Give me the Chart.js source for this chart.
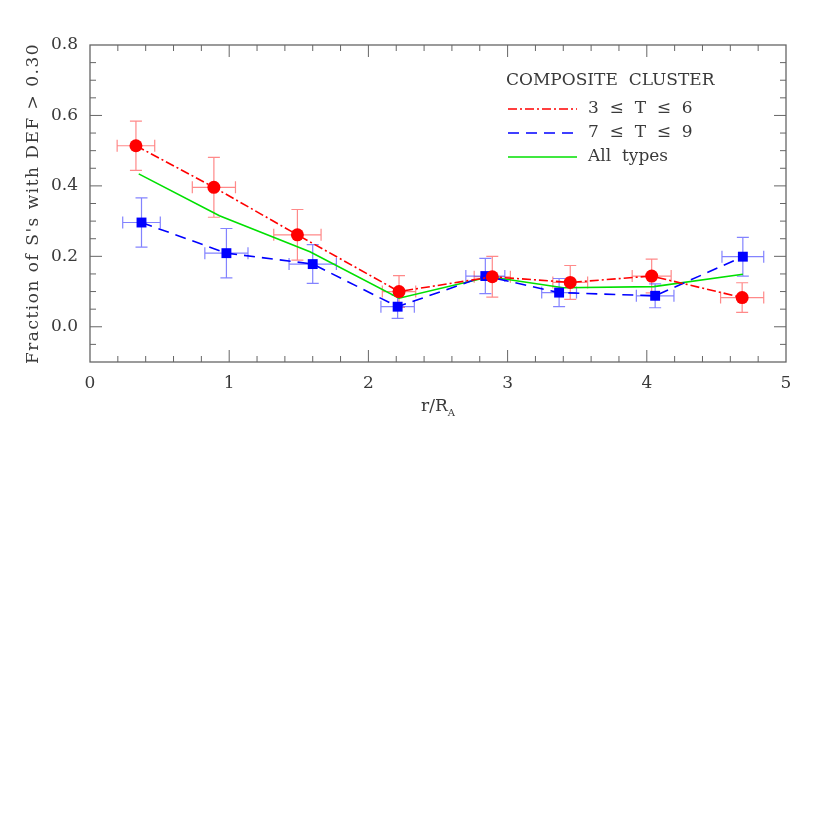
<!DOCTYPE html>
<html>
<head>
<meta charset="utf-8">
<script src="https://cdn.jsdelivr.net/npm/chart.js@4.4.1/dist/chart.umd.min.js"></script>
<style>
html, body { margin: 0; padding: 0; background: #fff; }
#wrap { width: 830px; height: 830px; }
</style>
</head>
<body>
<div id="wrap"><canvas id="chart" width="830" height="830"></canvas></div>
<script>
// 3 <= T <= 6
const lateX = [0.33, 0.89, 1.49, 2.22, 2.89, 3.45, 4.035, 4.685];
const lateY = [0.514, 0.396, 0.261, 0.100, 0.142, 0.126, 0.144, 0.083];
const lateXErr = [0.135, 0.155, 0.17, 0.12, 0.13, 0.125, 0.14, 0.155];
const lateYErr = [0.07, 0.085, 0.072, 0.045, 0.058, 0.048, 0.048, 0.042];

// 7 <= T <= 9
const irrX = [0.37, 0.98, 1.60, 2.21, 2.84, 3.37, 4.06, 4.69];
const irrY = [0.296, 0.209, 0.178, 0.057, 0.144, 0.097, 0.088, 0.199];
const irrXErr = [0.135, 0.155, 0.17, 0.12, 0.14, 0.125, 0.135, 0.15];
const irrYErr = [0.07, 0.07, 0.055, 0.033, 0.05, 0.04, 0.034, 0.055];

// all types
const allX = [0.35, 0.93, 1.58, 2.22, 2.87, 3.40, 4.05, 4.69];
const allY = [0.434, 0.315, 0.213, 0.081, 0.142, 0.111, 0.114, 0.149];

const xTicks = [0, 1, 2, 3, 4, 5];
const yTicks = [0.0, 0.2, 0.4, 0.6, 0.8];

const FONT = '"DejaVu Serif", "Liberation Serif", serif';
const TEXT = '#3a3a3a';
const AXIS = '#666';

function toPoints(xs, ys) {
    return xs.map((x, i) => ({ x: x, y: ys[i] }));
}

function drawErrorBars(ctx, xs, ys, xe, ye, color, xScale, yScale) {
    const cap = 6;
    ctx.save();
    ctx.strokeStyle = color;
    ctx.lineWidth = 1.2;
    for (let i = 0; i < xs.length; i++) {
        const px = xScale.getPixelForValue(xs[i]);
        const py = yScale.getPixelForValue(ys[i]);
        const x0 = xScale.getPixelForValue(xs[i] - xe[i]);
        const x1 = xScale.getPixelForValue(xs[i] + xe[i]);
        const y0 = yScale.getPixelForValue(ys[i] - ye[i]);
        const y1 = yScale.getPixelForValue(ys[i] + ye[i]);
        ctx.beginPath();
        ctx.moveTo(x0, py); ctx.lineTo(x1, py);
        ctx.moveTo(x0, py - cap); ctx.lineTo(x0, py + cap);
        ctx.moveTo(x1, py - cap); ctx.lineTo(x1, py + cap);
        ctx.moveTo(px, y0); ctx.lineTo(px, y1);
        ctx.moveTo(px - cap, y0); ctx.lineTo(px + cap, y0);
        ctx.moveTo(px - cap, y1); ctx.lineTo(px + cap, y1);
        ctx.stroke();
    }
    ctx.restore();
}

// error bars go under the lines and markers
const errorBarsPlugin = {
    id: 'errorBars',
    beforeDatasetsDraw(chart) {
        const { ctx, scales } = chart;
        drawErrorBars(ctx, lateX, lateY, lateXErr, lateYErr, 'rgba(255,40,40,0.55)', scales.x, scales.y);
        drawErrorBars(ctx, irrX, irrY, irrXErr, irrYErr, 'rgba(30,30,255,0.55)', scales.x, scales.y);
    }
};

// frame, inward ticks on all four sides, axis titles and the legend block
const framePlugin = {
    id: 'frame',
    afterDraw(chart) {
        const { ctx, chartArea: a, scales } = chart;
        const xs = scales.x, ys = scales.y;
        ctx.save();
        ctx.strokeStyle = AXIS;
        ctx.lineWidth = 1.3;
        ctx.strokeRect(a.left, a.top, a.right - a.left, a.bottom - a.top);

        ctx.lineWidth = 1;
        ctx.beginPath();
        for (let i = 1; i < 25; i++) {
            const v = i * 0.2;
            const len = (i % 5 === 0) ? 12 : 6;
            const p = xs.getPixelForValue(v);
            ctx.moveTo(p, a.bottom); ctx.lineTo(p, a.bottom - len);
            ctx.moveTo(p, a.top); ctx.lineTo(p, a.top + len);
        }
        for (let i = -1; i < 16; i++) {
            const v = i * 0.05;
            const len = (i % 4 === 0) ? 12 : 6;
            const p = ys.getPixelForValue(v);
            ctx.moveTo(a.left, p); ctx.lineTo(a.left + len, p);
            ctx.moveTo(a.right, p); ctx.lineTo(a.right - len, p);
        }
        ctx.stroke();

        ctx.fillStyle = TEXT;
        ctx.font = '17px ' + FONT;
        ctx.textBaseline = 'middle';

        // x title r/R_A
        const cx = (a.left + a.right) / 2;
        const main = 'r/R';
        const w = ctx.measureText(main).width;
        ctx.font = '10px ' + FONT;
        const ws = ctx.measureText('A').width;
        ctx.font = '17px ' + FONT;
        ctx.textAlign = 'left';
        ctx.fillText(main, cx - (w + ws) / 2, a.bottom + 45);
        ctx.font = '10px ' + FONT;
        ctx.fillText('A', cx - (w + ws) / 2 + w, a.bottom + 51);

        // y title
        ctx.font = '17px ' + FONT;
        ctx.save();
        ctx.translate(34, (a.top + a.bottom) / 2);
        ctx.rotate(-Math.PI / 2);
        ctx.textAlign = 'center';
        ctx.letterSpacing = '1.5px';
        ctx.fillText("Fraction of S's with DEF > 0.30", 0, 0);
        ctx.restore();

        // legend
        ctx.textAlign = 'left';
        ctx.fillText('COMPOSITE  CLUSTER', 506, 81);
        const rows = [
            { label: '3  \u2264  T  \u2264  6', color: '#ff0000', dash: [9, 3, 2, 3] },
            { label: '7  \u2264  T  \u2264  9', color: '#0000ff', dash: [11, 7] },
            { label: 'All  types', color: '#00e000', dash: [] }
        ];
        rows.forEach((r, i) => {
            const y = 109 + i * 24;
            ctx.save();
            ctx.strokeStyle = r.color;
            ctx.lineWidth = 1.6;
            ctx.setLineDash(r.dash);
            ctx.beginPath();
            ctx.moveTo(508, y);
            ctx.lineTo(577, y);
            ctx.stroke();
            ctx.restore();
            ctx.fillText(r.label, 588, y);
        });
        ctx.restore();
    }
};

const chart = new Chart(document.getElementById('chart'), {
    type: 'line',
    data: {
        datasets: [
            {
                label: '3 \u2264 T \u2264 6',
                data: toPoints(lateX, lateY),
                borderColor: '#ff0000',
                backgroundColor: '#ff0000',
                borderWidth: 1.6,
                borderDash: [9, 3, 2, 3],
                pointStyle: 'circle',
                pointRadius: 6.5,
                pointBorderWidth: 0,
                tension: 0,
                order: 1
            },
            {
                label: '7 \u2264 T \u2264 9',
                data: toPoints(irrX, irrY),
                borderColor: '#0000ff',
                backgroundColor: '#0000ff',
                borderWidth: 1.6,
                borderDash: [11, 7],
                pointStyle: 'rect',
                pointRadius: 7,
                pointBorderWidth: 0,
                tension: 0,
                order: 2
            },
            {
                label: 'All types',
                data: toPoints(allX, allY),
                borderColor: '#00e000',
                borderWidth: 1.6,
                pointRadius: 0,
                tension: 0,
                order: 3
            }
        ]
    },
    options: {
        responsive: false,
        animation: false,
        devicePixelRatio: 1,
        layout: { padding: { left: 0, right: 44, top: 45, bottom: 428 } },
        plugins: {
            legend: { display: false },
            tooltip: { enabled: false }
        },
        scales: {
            x: {
                type: 'linear',
                min: 0,
                max: 5,
                grid: { display: false },
                border: { display: false },
                afterBuildTicks: s => { s.ticks = xTicks.map(v => ({ value: v })); },
                afterFit: s => { s.height = 40; },
                ticks: {
                    padding: 3,
                    color: TEXT,
                    font: { family: FONT, size: 17 },
                    callback: v => String(v)
                }
            },
            y: {
                type: 'linear',
                min: -0.1,
                max: 0.8,
                grid: { display: false },
                border: { display: false },
                afterBuildTicks: s => { s.ticks = yTicks.map(v => ({ value: v })); },
                afterFit: s => { s.width = 90; },
                ticks: {
                    padding: 4,
                    color: TEXT,
                    font: { family: FONT, size: 17 },
                    callback: v => v.toFixed(1)
                }
            }
        }
    },
    plugins: [errorBarsPlugin, framePlugin]
});
</script>
</body>
</html>
